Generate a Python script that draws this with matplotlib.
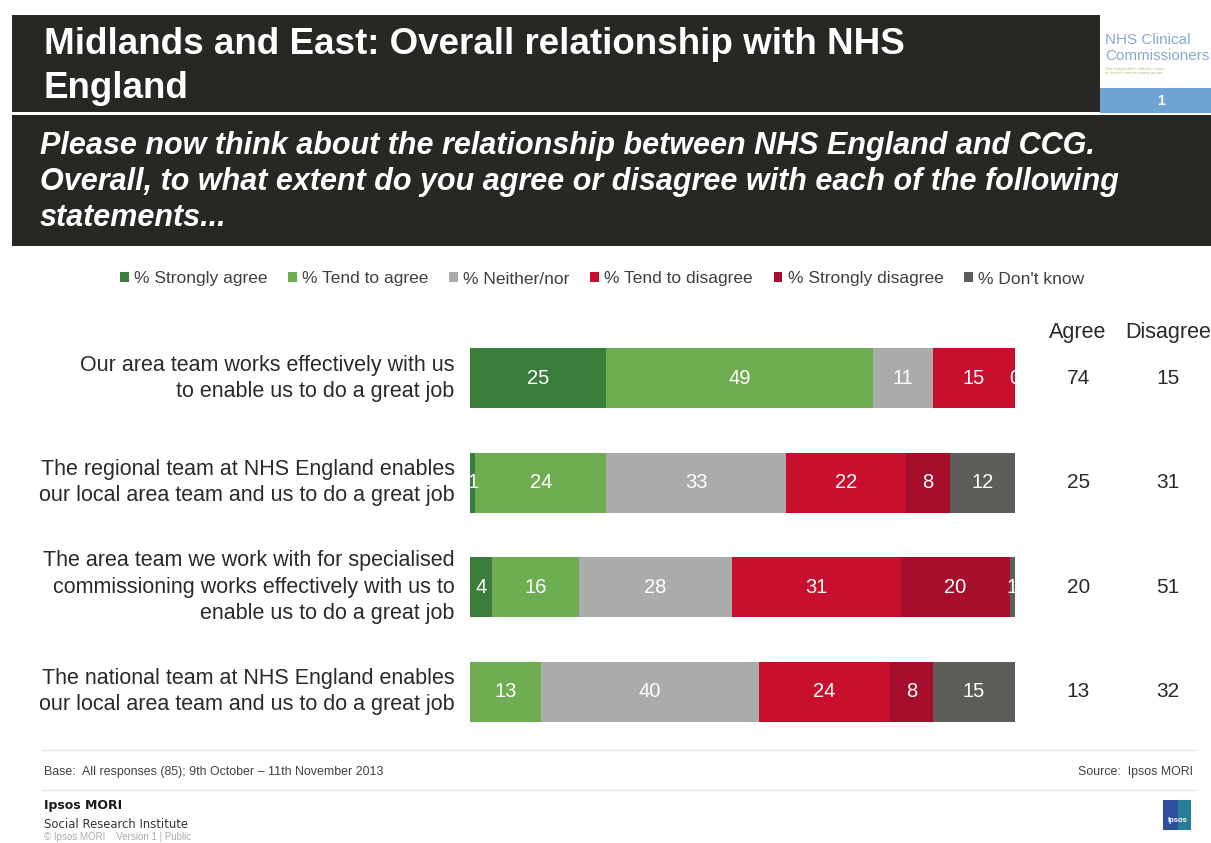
import matplotlib.pyplot as plt
from matplotlib.patches import Rectangle

plt.rcParams['font.family'] = ['Liberation Sans', 'DejaVu Sans']

W, H = 1211, 843

# chart data
categories = [
    "Our area team works effectively with us\nto enable us to do a great job",
    "The regional team at NHS England enables\nour local area team and us to do a great job",
    "The area team we work with for specialised\ncommissioning works effectively with us to\nenable us to do a great job",
    "The national team at NHS England enables\nour local area team and us to do a great job",
]
series_names = ["% Strongly agree", "% Tend to agree", "% Neither/nor",
                "% Tend to disagree", "% Strongly disagree", "% Don't know"]
strongly_agree = [25, 1, 4, 0]
tend_agree = [49, 24, 16, 13]
neither = [11, 33, 28, 40]
tend_disagree = [15, 22, 31, 24]
strongly_disagree = [0, 8, 20, 8]
dont_know = [0, 12, 1, 15]
agree_net = [74, 25, 20, 13]
disagree_net = [15, 31, 51, 32]

colors = ["#3b7d3c", "#6fad52", "#aaabab", "#c8102e", "#a70e2b", "#5e5d59"]


def fx(px):
    return px / W


def fy(py):
    return 1 - py / H


def rect(x0, y0, x1, y1, color):
    fig.add_artist(Rectangle((fx(x0), fy(y1)), fx(x1) - fx(x0), fy(y0) - fy(y1),
                             transform=fig.transFigure, color=color, lw=0))


fig = plt.figure(figsize=(W / 100, H / 100), dpi=100)

# header
rect(12, 15, 1100, 112, "#272724")
rect(12, 115, 1211, 246, "#272724")
rect(1100, 88, 1211, 113, "#6fa3d3")
fig.text(fx(44), fy(44), "Midlands and East: Overall relationship with NHS",
         color="white", fontsize=26.5, fontweight="bold", va="center")
fig.text(fx(44), fy(88), "England", color="white", fontsize=26.5,
         fontweight="bold", va="center")
sub = ["Please now think about the relationship between NHS England and CCG.",
       "Overall, to what extent do you agree or disagree with each of the following",
       "statements..."]
for i, line in enumerate(sub):
    fig.text(fx(40), fy(146 + i * 36), line, color="white", fontsize=22,
             fontweight="bold", style="italic", va="center")
fig.text(fx(1105), fy(40), "NHS Clinical", color="#86a9cf", fontsize=11, va="center")
fig.text(fx(1105), fy(56), "Commissioners", color="#86a9cf", fontsize=11, va="center")
fig.text(fx(1105), fy(71), "The independent collective voice\nof clinical commissioning groups",
         color="#a7c48a", fontsize=3, va="center", linespacing=1.1)
fig.text(fx(1161), fy(101), "1", color="white", fontsize=10, fontweight="bold",
         ha="center", va="center")

# bars
ax = fig.add_axes([fx(470), fy(744), fx(1015) - fx(470), fy(326) - fy(744)])
series = [strongly_agree, tend_agree, neither, tend_disagree, strongly_disagree, dont_know]
ypos = list(range(len(categories)))
left = [0] * len(categories)
for k, (name, vals) in enumerate(zip(series_names, series)):
    ax.barh(ypos, vals, left=left, height=0.575, color=colors[k], label=name)
    for i, v in enumerate(vals):
        if v > 0 or k == 4:
            ax.text(left[i] + v / 2, i, str(v), color="white", fontsize=14.5,
                    ha="center", va="center", clip_on=True)
    left = [a + b for a, b in zip(left, vals)]
ax.set_xlim(0, 100)
ax.set_ylim(len(categories) - 0.5, -0.5)
ax.axis("off")

for i, cat in enumerate(categories):
    ax.text(-2.8, i, cat, ha="right", va="center", fontsize=15.5, color="#2a2a2a",
            linespacing=1.33)
    ax.text(111.6, i, str(agree_net[i]), ha="center", va="center", fontsize=15,
            color="#2a2a2a", clip_on=False)
    ax.text(128.1, i, str(disagree_net[i]), ha="center", va="center", fontsize=15,
            color="#2a2a2a", clip_on=False)
fig.text(fx(1078), fy(333), "Agree", ha="center", va="center", fontsize=15.5, color="#2a2a2a")
fig.text(fx(1168), fy(333), "Disagree", ha="center", va="center", fontsize=15.5, color="#2a2a2a")

leg = fig.legend(loc="center", bbox_to_anchor=(fx(602), fy(279)), ncol=6,
                 frameon=False, fontsize=12.5, handlelength=0.5, handleheight=0.5,
                 handletextpad=0.3, columnspacing=1.2, labelcolor="#404040")

# footer
fig.add_artist(plt.Line2D([fx(42), fx(1195)], [fy(750), fy(750)],
                          transform=fig.transFigure, color="#e6e6e6", lw=1))
fig.add_artist(plt.Line2D([fx(42), fx(1195)], [fy(790), fy(790)],
                          transform=fig.transFigure, color="#e6e6e6", lw=1))
fig.text(fx(44), fy(772), "Base:  All responses (85); 9th October \u2013 11th November 2013",
         fontsize=8.9, color="#404040", va="center")
fig.text(fx(1193), fy(772), "Source:  Ipsos MORI", fontsize=8.9, color="#404040",
         va="center", ha="right")
fig.text(fx(44), fy(806), "Ipsos MORI", fontsize=9, fontweight="bold",
         color="#1a1a1a", va="center", family=["DejaVu Sans"])
fig.text(fx(44), fy(824), "Social Research Institute", fontsize=8.4,
         color="#333333", va="center", family=["DejaVu Sans"])
fig.text(fx(44), fy(837), "\u00a9 Ipsos MORI    Version 1 | Public", fontsize=7,
         color="#aaaaaa", va="center")
rect(1163, 800, 1191, 830, "#2f4f9e")
rect(1178, 800, 1191, 830, "#2a7d96")
fig.text(fx(1177), fy(821), "Ipsos", fontsize=5.5, color="white", fontweight="bold",
         ha="center", va="center")

fig.savefig("out.png", dpi=100)
